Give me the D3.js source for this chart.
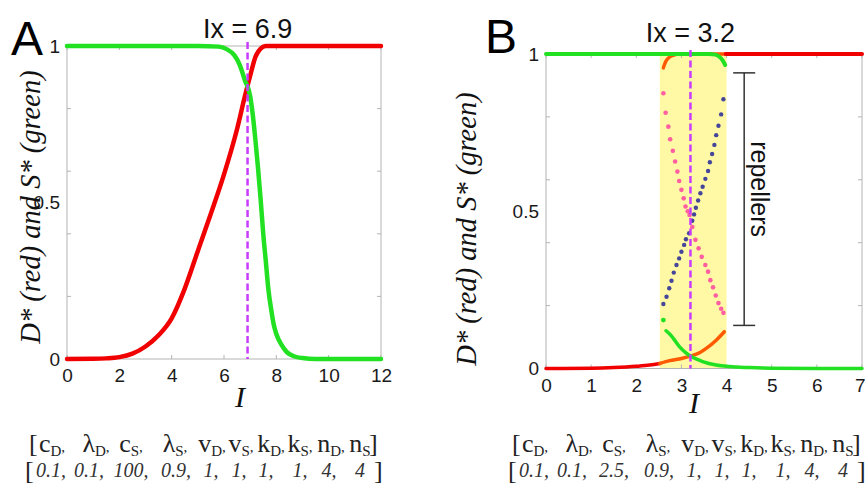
<!DOCTYPE html>
<html><head><meta charset="utf-8">
<script src="https://cdn.jsdelivr.net/npm/d3@7"></script>
<style>body{margin:0;background:#fff}svg{display:block}</style>
</head><body>
<svg id="chart" width="865" height="491"></svg>
<script>
// ---------- DATA ----------
// Panel A
const aXTicks = [0,2,4,6,8,10,12];
const aRedI   = [0,1,1.5,2,2.5,3,3.5,4,4.5,5,5.5,6,6.5,6.8,7.0,7.2,7.4,7.6,8,9,10,11,12];
const aRedV   = [0,0.0005,0.002,0.006,0.017,0.04,0.076,0.13,0.225,0.345,0.465,0.59,0.735,0.84,0.905,0.965,0.992,1,1,1,1,1,1];
const aGreenI = [0,2,4,5,5.8,6.1,6.4,6.6,6.8,7.0,7.1,7.2,7.3,7.4,7.5,7.6,7.7,7.8,7.9,8.0,8.2,8.4,8.7,9.0,9.5,10,11,12];
const aGreenV = [1,1,1,1,0.998,0.99,0.97,0.94,0.89,0.84,0.78,0.70,0.61,0.51,0.40,0.31,0.22,0.16,0.11,0.08,0.045,0.022,0.008,0.003,0,0,0,0];
const aIx = 6.9;
const paramsA = ["0.1","0.1","100","0.9","1","1","1","1","4","4"];

// Panel B
const bXTicks = [0,1,2,3,4,5,6,7];
const bRedLowI    = [0,1,1.5,2,2.3,2.52];
const bRedLowV    = [0,0.001,0.003,0.007,0.011,0.016];
const bOrangeLowI = [2.52,2.74,3.0,3.22,3.4,3.55,3.77,3.95];
const bOrangeLowV = [0.016,0.025,0.032,0.04,0.05,0.064,0.09,0.117];
const bOrangeUpI  = [2.6,2.65,2.72,2.8,2.9,3.0,4.0];
const bOrangeUpV  = [0.956,0.975,0.988,0.995,0.999,1,1];
const bRedUpI     = [3.98,7];
const bRedUpV     = [1,1];
const bGreenUpI   = [0,3.6,3.75,3.85,3.92,3.97];
const bGreenUpV   = [1,1,0.998,0.99,0.978,0.965];
const bGreenLowI  = [2.66,2.75,2.82,2.96,3.1,3.22,3.47,3.77,4.07,4.5,5,6,7];
const bGreenLowV  = [0.12,0.108,0.096,0.069,0.05,0.038,0.022,0.011,0.006,0.003,0.001,0,0];
const bGreenDotI  = [2.6];
const bGreenDotV  = [0.154];
const bPinkI = [2.60,2.65,2.71,2.75,2.81,2.86,2.91,2.95,3.00,3.05,3.09,3.14,3.18,3.24,3.31,3.38,3.45,3.53,3.59,3.64,3.70,3.76,3.82,3.88,3.93];
const bPinkV = [0.875,0.813,0.769,0.729,0.692,0.658,0.626,0.596,0.568,0.541,0.515,0.50,0.488,0.45,0.409,0.382,0.355,0.329,0.308,0.281,0.258,0.232,0.208,0.19,0.177];
const bBlueI = [2.60,2.67,2.73,2.78,2.83,2.89,2.95,3.00,3.06,3.10,3.17,3.24,3.28,3.32,3.37,3.42,3.47,3.53,3.59,3.63,3.68,3.73,3.77,3.82,3.88,3.93];
const bBlueV = [0.205,0.228,0.255,0.279,0.305,0.329,0.350,0.371,0.393,0.411,0.43,0.47,0.49,0.511,0.534,0.557,0.578,0.603,0.628,0.656,0.682,0.711,0.742,0.772,0.808,0.856];
const bYellow = [2.52, 4.0];
const bIx = 3.2;
const bRepellerI = 4.39;
const bRepellerRange = [0.137, 0.94];
const paramsB = ["0.1","0.1","2.5","0.9","1","1","1","1","4","4"];

// shared
const yTickMinor = [0.2,0.4,0.6,0.8];
const yTickLabels = [0,0.5,1];
const paramNames = [["c","D"],["λ","D"],["c","S"],["λ","S"],["v","D"],["v","S"],["k","D"],["k","S"],["n","D"],["n","S"]];
const yLabel = "D* (red) and S* (green)";

// ---------- DRAW ----------
const svg = d3.select("#chart");
const RED = "#f00000", GREEN = "#22e022", ORANGE = "#ff5a00", PINK = "#ff5fa0", BLUE = "#45459a", MAG = "#c93cff", AXIS = "#b4b4b4";
const SANS = "Liberation Sans, Arial, sans-serif", SERIF = "Liberation Serif, Times New Roman, serif";
const zip = (xs, ys) => xs.map((x, i) => [x, ys[i]]);

function panel(o) {
  const g = svg.append("g");
  const x = d3.scaleLinear().domain(o.xDomain).range([o.left, o.right]);
  const y = d3.scaleLinear().domain([0, 1]).range([o.bottom, o.top]);
  if (o.yellow) {
    g.append("rect").attr("x", x(o.yellow[0])).attr("y", y(1)).attr("width", x(o.yellow[1]) - x(o.yellow[0]))
      .attr("height", y(0) - y(1)).attr("fill", "#fff9a6");
  }
  g.append("rect").attr("x", o.left).attr("y", o.top).attr("width", o.right - o.left).attr("height", o.bottom - o.top)
    .attr("fill", "none").attr("stroke", AXIS).attr("stroke-width", 1);
  const xa = d3.axisBottom(x).tickValues(o.xTicks).tickSize(0).tickPadding(10).tickFormat(d3.format("d"));
  const gx = g.append("g").attr("transform", `translate(0,${o.bottom})`).call(xa);
  gx.select(".domain").remove();
  gx.selectAll("text").attr("font-family", SANS).attr("font-size", 19).attr("fill", "#1a1a1a");
  if (o.lastTickEnd) {
    gx.selectAll(".tick").filter(d => d === o.xTicks[o.xTicks.length - 1]).select("text")
      .attr("text-anchor", "end").attr("x", 865 - o.right);
  }
  o.xTicks.forEach(t => {
    g.append("line").attr("x1", x(t)).attr("x2", x(t)).attr("y1", o.bottom).attr("y2", o.bottom - 4).attr("stroke", AXIS);
    g.append("line").attr("x1", x(t)).attr("x2", x(t)).attr("y1", o.top).attr("y2", o.top + 4).attr("stroke", AXIS);
  });
  yTickMinor.forEach(t => {
    g.append("line").attr("x1", o.left).attr("x2", o.left + 4).attr("y1", y(t)).attr("y2", y(t)).attr("stroke", AXIS);
    g.append("line").attr("x1", o.right).attr("x2", o.right - 4).attr("y1", y(t)).attr("y2", y(t)).attr("stroke", AXIS);
  });
  const ya = d3.axisLeft(y).tickValues(yTickLabels).tickSize(0).tickPadding(7).tickFormat(d => d === 0.5 ? "0.5" : String(d));
  const gy = g.append("g").attr("transform", `translate(${o.left},0)`).call(ya);
  gy.select(".domain").remove();
  gy.selectAll("text").attr("font-family", SANS).attr("font-size", 19).attr("fill", "#1a1a1a");

  const line = d3.line().x(d => x(d[0])).y(d => y(d[1])).curve(d3.curveMonotoneX);
  o.lines.forEach(l => {
    g.append("path").attr("d", line(zip(l.xs, l.ys))).attr("fill", "none").attr("stroke", l.color)
      .attr("stroke-width", l.w).attr("stroke-linecap", "round").attr("stroke-linejoin", "round");
  });
  (o.dots || []).forEach(s => {
    g.selectAll(null).data(zip(s.xs, s.ys)).enter().append("circle")
      .attr("cx", d => x(d[0])).attr("cy", d => y(d[1])).attr("r", s.r).attr("fill", s.color);
  });
  g.append("line").attr("x1", x(o.ix)).attr("x2", x(o.ix)).attr("y1", o.top - o.dashAbove).attr("y2", o.bottom)
    .attr("stroke", MAG).attr("stroke-width", 2.5).attr("stroke-dasharray", "7,3.5");
  g.append("text").attr("x", x(o.ix)).attr("y", o.titleY).attr("text-anchor", "middle")
    .attr("font-family", SANS).attr("font-size", 27).attr("fill", "#111").text("Ix = " + o.ix);
  g.append("text").attr("x", o.letterX).attr("y", o.letterY).attr("font-family", SANS)
    .attr("font-size", 48).attr("fill", "#000").text(o.letter);
  g.append("text").attr("x", o.iLabelX).attr("y", o.iLabelY).attr("text-anchor", "middle")
    .attr("font-family", SERIF).attr("font-style", "italic").attr("font-size", 30).attr("fill", "#111").text("I");
  g.append("text").attr("transform", `translate(${o.yLabelX},${o.yLabelY}) rotate(-90)`).attr("text-anchor", "middle")
    .attr("font-family", SERIF).attr("font-style", "italic").attr("font-size", 28.5).attr("fill", "#111").text(yLabel);

  const nameOff = [52,96,131,175,212,241,271,300,331,360];
  const valOff  = [51,89,131,176,211,239,266,300,329,360];
  const pg = g.append("g").attr("font-family", SERIF).attr("fill", "#222");
  pg.append("text").attr("x", o.paramDX + 29).attr("y", 452).attr("font-size", 26).text("[");
  paramNames.forEach((p, i) => {
    const t = pg.append("text").attr("x", o.paramDX + nameOff[i]).attr("y", 452).attr("text-anchor", "middle").attr("font-size", 26);
    t.append("tspan").text(p[0]);
    t.append("tspan").attr("font-size", 15).attr("dy", 4).text(p[1]);
    t.append("tspan").attr("font-size", 15).attr("dy", -4).text(i < paramNames.length - 1 ? "," : "");
  });
  pg.append("text").attr("x", o.paramDX + 369).attr("y", 452).attr("font-size", 26).text("]");
  pg.append("text").attr("x", o.paramDX + 25).attr("y", 479).attr("font-size", 26).text("[");
  o.params.forEach((v, i) => {
    pg.append("text").attr("x", o.paramDX + valOff[i]).attr("y", 477).attr("text-anchor", "middle")
      .attr("font-size", 20).attr("font-style", "italic").attr("fill", "#333")
      .text(v + (i < o.params.length - 1 ? "," : ""));
  });
  pg.append("text").attr("x", o.paramDX + 374).attr("y", 479).attr("font-size", 26).text("]");
  return {g, x, y};
}

// Panel A
panel({
  xDomain: [0, 12], left: 67, right: 381, top: 46, bottom: 359, xTicks: aXTicks,
  lines: [
    {xs: aRedI, ys: aRedV, color: RED, w: 4.5},
    {xs: aGreenI, ys: aGreenV, color: GREEN, w: 4.5}
  ],
  ix: aIx, dashAbove: 4, titleY: 38, letter: "A", letterX: 11, letterY: 55,
  iLabelX: 240, iLabelY: 407, yLabelX: 40, yLabelY: 207, params: paramsA, paramDX: 0
});

// Panel B
const pb = panel({
  xDomain: [0, 7], left: 546, right: 862, top: 54, bottom: 368.5, xTicks: bXTicks, yellow: bYellow, lastTickEnd: true,
  lines: [
    {xs: bRedLowI, ys: bRedLowV, color: RED, w: 3.5},
    {xs: bOrangeLowI, ys: bOrangeLowV, color: ORANGE, w: 3.5},
    {xs: bOrangeUpI, ys: bOrangeUpV, color: ORANGE, w: 3.5},
    {xs: bRedUpI, ys: bRedUpV, color: RED, w: 4},
    {xs: bGreenUpI, ys: bGreenUpV, color: GREEN, w: 4},
    {xs: bGreenLowI, ys: bGreenLowV, color: GREEN, w: 3.5}
  ],
  dots: [
    {xs: bPinkI, ys: bPinkV, color: PINK, r: 2.3},
    {xs: bBlueI, ys: bBlueV, color: BLUE, r: 2.2},
    {xs: bGreenDotI, ys: bGreenDotV, color: GREEN, r: 2.4}
  ],
  ix: bIx, dashAbove: 4, titleY: 42, letter: "B", letterX: 485, letterY: 53,
  iLabelX: 694, iLabelY: 413, yLabelX: 476, yLabelY: 229, params: paramsB, paramDX: 483
});

// repellers bracket
{
  const {g, x, y} = pb;
  const bx = x(bRepellerI);
  g.append("line").attr("x1", bx).attr("x2", bx).attr("y1", y(bRepellerRange[1])).attr("y2", y(bRepellerRange[0])).attr("stroke", "#333").attr("stroke-width", 1.5);
  bRepellerRange.forEach(v => g.append("line").attr("x1", bx - 11).attr("x2", bx + 11).attr("y1", y(v)).attr("y2", y(v)).attr("stroke", "#333").attr("stroke-width", 1.5));
  g.append("text").attr("transform", `translate(${bx + 7},${y((bRepellerRange[0] + bRepellerRange[1]) / 2) - 10}) rotate(90)`)
    .attr("text-anchor", "middle").attr("font-family", SANS).attr("font-size", 25).attr("fill", "#111").text("repellers");
}
</script>
</body></html>
